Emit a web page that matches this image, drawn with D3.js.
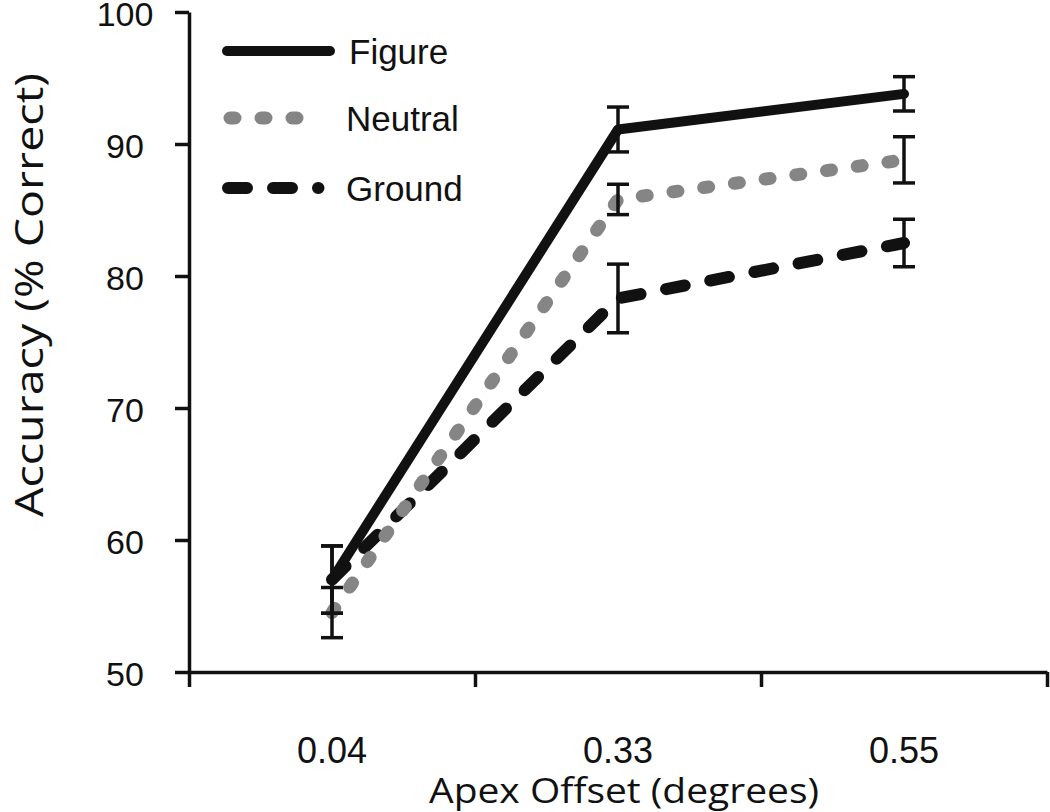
<!DOCTYPE html>
<html>
<head>
<meta charset="utf-8">
<script src="https://cdn.jsdelivr.net/npm/d3@7"></script>
<style>
  html, body { margin: 0; padding: 0; background: #fff; }
  svg { display: block; }
</style>
</head>
<body>
<svg id="chart" width="1050" height="812"></svg>
<script>
// ---- data ----
const categories = ["0.04", "0.33", "0.55"];
const seriesNames = ["Figure", "Neutral", "Ground"];
const figureValues = [57.0, 91.1, 93.8];
const neutralValues = [54.5, 85.8, 88.8];
const groundValues = [57.0, 78.3, 82.5];
const figureErrors = [2.55, 1.7, 1.3];
const neutralErrors = [1.9, 1.15, 1.75];
const groundErrors = [2.55, 2.6, 1.8];
const yTickValues = [50, 60, 70, 80, 90, 100];
const xTitle = "Apex Offset (degrees)";
const yTitle = "Accuracy (% Correct)";

(function () {
// ---- layout ----
const svg = d3.select("#chart");
const plotLeft = 189, plotRight = 1047, plotTop = 12, plotBottom = 672;

const x = d3.scaleBand().domain(categories).range([plotLeft, plotRight]);
const y = d3.scaleLinear().domain([50, 100]).range([plotBottom, plotTop]);

const styles = {
  Figure:  { color: "#111", width: 10, dash: null, cap: "round" },
  Neutral: { color: "#858585", width: 13, dash: "5,26", cap: "round" },
  Ground:  { color: "#111", width: 12, dash: "19,26", cap: "round" }
};

const series = [
  { name: "Figure", values: figureValues, errors: figureErrors },
  { name: "Neutral", values: neutralValues, errors: neutralErrors },
  { name: "Ground", values: groundValues, errors: groundErrors }
];

// ---- axes ----
const yAxis = svg.append("g")
  .attr("transform", `translate(${plotLeft},0)`)
  .call(d3.axisLeft(y).tickValues(yTickValues).tickSize(14).tickSizeOuter(0).tickFormat(d3.format("d")));
yAxis.select(".domain").attr("stroke", "#111").attr("stroke-width", 3.5);
yAxis.selectAll(".tick line").attr("stroke", "#111").attr("stroke-width", 3.5);
yAxis.selectAll(".tick text")
  .attr("x", -64).attr("text-anchor", "middle").attr("dy", "0.4em")
  .attr("fill", "#111")
  .style("font-family", "'Liberation Sans', Arial, sans-serif").style("font-size", "34px");

// boundary ticks for the category axis
const boundary = d3.scaleLinear().domain([0, categories.length]).range([plotLeft, plotRight]);
const xBound = svg.append("g")
  .attr("transform", `translate(0,${plotBottom})`)
  .call(d3.axisBottom(boundary).tickValues(d3.range(categories.length + 1)).tickSize(15).tickSizeOuter(0).tickFormat(""));
xBound.select(".domain").attr("stroke", "#111").attr("stroke-width", 3.5);
xBound.selectAll(".tick line").attr("stroke", "#111").attr("stroke-width", 3.5);

const xAxis = svg.append("g")
  .attr("transform", `translate(0,${plotBottom})`)
  .call(d3.axisBottom(x).tickSize(0));
xAxis.select(".domain").remove();
xAxis.selectAll(".tick text")
  .attr("y", 91).attr("dy", 0)
  .attr("fill", "#111")
  .style("font-family", "'Liberation Sans', Arial, sans-serif").style("font-size", "36px");

// ---- lines ----
const line = d3.line()
  .x((d, i) => x(categories[i]) + x.bandwidth() / 2)
  .y(d => y(d));

const drawOrder = ["Ground", "Neutral", "Figure"];
drawOrder.forEach(name => {
  const s = series.find(d => d.name === name);
  const st = styles[name];
  svg.append("path")
    .datum(s.values)
    .attr("d", line)
    .attr("fill", "none")
    .attr("stroke", st.color)
    .attr("stroke-width", st.width)
    .attr("stroke-linecap", st.cap)
    .attr("stroke-linejoin", "round")
    .attr("stroke-dasharray", st.dash);
});

// ---- error bars ----
const capHalf = 11;
series.forEach(s => {
  const g = svg.append("g").attr("stroke", "#111").attr("stroke-width", 3.5);
  s.values.forEach((v, i) => {
    const cx = x(categories[i]) + x.bandwidth() / 2;
    const y1 = y(v + s.errors[i]), y2 = y(v - s.errors[i]);
    g.append("line").attr("x1", cx).attr("x2", cx).attr("y1", y1).attr("y2", y2);
    g.append("line").attr("x1", cx - capHalf).attr("x2", cx + capHalf).attr("y1", y1).attr("y2", y1);
    g.append("line").attr("x1", cx - capHalf).attr("x2", cx + capHalf).attr("y1", y2).attr("y2", y2);
  });
});

// ---- legend ----
const legendY = [51, 118, 188];
const legendX1 = { Figure: 227, Neutral: 230, Ground: 228 };
const legendX2 = { Figure: 330, Neutral: 300, Ground: 318.5 };
const legend = svg.append("g");
seriesNames.forEach((name, i) => {
  const st = styles[name];
  legend.append("line")
    .attr("x1", legendX1[name]).attr("x2", legendX2[name])
    .attr("y1", legendY[i]).attr("y2", legendY[i])
    .attr("stroke", st.color)
    .attr("stroke-width", st.width)
    .attr("stroke-linecap", st.cap)
    .attr("stroke-dasharray", st.dash);
  legend.append("text")
    .attr("x", name === "Figure" ? 349 : 346)
    .attr("y", legendY[i] + 13)
    .attr("fill", "#111")
    .style("font-family", "'Liberation Sans', Arial, sans-serif")
    .style("font-size", "35px")
    .text(name);
});

// ---- titles ----
svg.append("text")
  .attr("x", 624).attr("y", 803)
  .attr("text-anchor", "middle")
  .attr("fill", "#111")
  .attr("textLength", 390).attr("lengthAdjust", "spacingAndGlyphs")
  .style("font-family", "'Open Sans', 'Noto Sans', sans-serif").style("font-size", "34px")
  .text(xTitle);

svg.append("text")
  .attr("transform", "translate(43,295) rotate(-90)")
  .attr("text-anchor", "middle")
  .attr("fill", "#111")
  .attr("textLength", 444).attr("lengthAdjust", "spacingAndGlyphs")
  .style("font-family", "'Open Sans', 'Noto Sans', sans-serif").style("font-size", "38px")
  .text(yTitle);
})();
</script>
</body>
</html>
